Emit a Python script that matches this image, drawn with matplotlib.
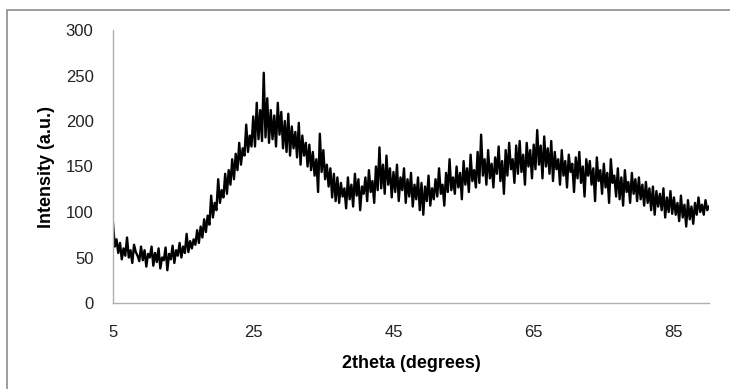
import numpy as np
import matplotlib
matplotlib.use('Agg')
import matplotlib.pyplot as plt
from matplotlib.patches import Rectangle

# 2theta grid step 0.25 degrees
passo = 0.25

intensidade_5_25 = [
    88, 62, 70, 55, 66, 48, 60, 52,
    72, 50, 58, 44, 64, 56, 52, 46,
    62, 47, 58, 40, 54, 50, 62, 41,
    55, 45, 60, 38, 50, 47, 61, 36,
    54, 48, 63, 44, 58, 52, 66, 50,
    62, 55, 76, 56, 68, 60, 70, 64,
    80, 66, 84, 72, 92, 78, 96, 86,
    118, 94, 110, 102, 136, 110, 124, 116,
    142, 120, 146, 130, 158, 136, 164, 146,
    176, 152, 170, 162, 196, 166, 184, 172,
]

intensidade_25_45 = [
    205, 172, 220, 180, 212, 178, 253, 182,
    225, 176, 212, 180, 206, 172, 220, 185,
    210, 170, 200, 166, 208, 162, 194, 170,
    188, 160, 198, 152, 184, 162, 176, 150,
    174, 146, 166, 140, 158, 122, 186, 144,
    168, 136, 152, 128, 148, 116, 142, 112,
    138, 110, 132, 117, 126, 104, 138, 114,
    130, 106, 142, 118, 136, 102, 128, 120,
    138, 112, 146, 122, 134, 110, 150, 124,
    171, 126, 152, 120, 162, 130, 148, 116,
]

intensidade_45_65 = [
    144, 122, 152, 112, 138, 124, 148, 110,
    136, 117, 143, 106, 130, 114, 138, 102,
    132, 97, 128, 112, 140, 107, 126, 114,
    136, 117, 148, 120, 130, 107, 143, 122,
    158, 124, 138, 120, 150, 127, 143, 114,
    156, 130, 148, 122, 163, 134, 146, 127,
    166, 132, 185, 140, 158, 130, 168, 137,
    153, 127, 160, 142, 172, 134, 156, 120,
    168, 140, 176, 147, 158, 132, 173, 142,
    178, 144, 163, 130, 176, 150, 168, 137,
]

intensidade_65_90 = [
    174, 147, 190, 152, 173, 137, 183, 150,
    170, 142, 178, 134, 166, 147, 158, 130,
    168, 140, 156, 127, 163, 144, 153, 122,
    160, 137, 166, 132, 150, 117, 158, 140,
    156, 130, 148, 112, 160, 134, 146, 120,
    153, 127, 143, 110, 158, 132, 140, 117,
    148, 114, 138, 107, 146, 122, 133, 110,
    143, 120, 136, 112, 138, 114, 130, 107,
    133, 110, 126, 102, 128, 97, 123, 106,
    120, 102, 126, 94, 116, 100, 123, 98,
    116, 97, 110, 90, 118, 94, 108, 84,
    113, 92, 106, 87, 110, 97, 116, 100,
    108, 97, 113, 102, 106,
]

intensidade = (intensidade_5_25 + intensidade_25_45 +
               intensidade_45_65 + intensidade_65_90)
dois_theta = 5 + passo * np.arange(len(intensidade))

plt.rcParams['font.family'] = ['Liberation Sans', 'DejaVu Sans']

fig = plt.figure(figsize=(7.3, 3.89), dpi=100)
ax = fig.add_axes([113 / 730, 1 - 303 / 389, 596 / 730, 273 / 389])

# moldura cinza do grafico (estilo Excel)
fig.patches.append(Rectangle((7 / 730, -0.1), 1.1, 1 - 10 / 389 + 0.1,
                             transform=fig.transFigure, fill=False,
                             edgecolor='#8c8c8c', linewidth=1.2))

ax.plot(dois_theta, intensidade, color='black', linewidth=1.7)

ax.set_xlim(5, 90)
ax.set_ylim(0, 300)
ax.set_xticks([5, 25, 45, 65, 85])
ax.set_yticks(range(0, 301, 50))

for lado in ['top', 'right']:
    ax.spines[lado].set_visible(False)
for lado in ['left', 'bottom']:
    ax.spines[lado].set_color('#b0b0b0')
    ax.spines[lado].set_linewidth(1.0)

ax.tick_params(axis='both', length=0, labelsize=12, colors='#222222')
ax.tick_params(axis='y', pad=14)
ax.tick_params(axis='x', pad=16)

ax.set_xlabel('2theta (degrees)', fontsize=13, fontweight='bold')
ax.set_ylabel('Intensity (a.u.)', fontsize=13, fontweight='bold')
ax.xaxis.set_label_coords(0.5, -0.19)
ax.yaxis.set_label_coords(-0.098, 0.5)

fig.savefig('out.png', dpi=100)
